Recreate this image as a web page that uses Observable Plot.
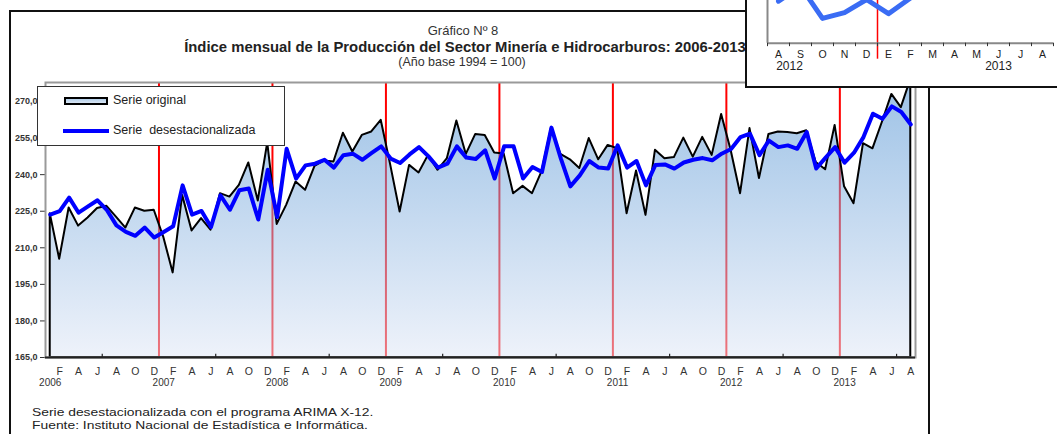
<!DOCTYPE html>
<html><head><meta charset="utf-8">
<script src="https://cdn.jsdelivr.net/npm/d3@7"></script>
<script src="https://cdn.jsdelivr.net/npm/@observablehq/plot@0.6"></script>
<style>
html,body{margin:0;padding:0;background:#fff;}
#root{position:relative;width:1057px;height:434px;overflow:hidden;font-family:"Liberation Sans",Arial,sans-serif;color:#222;}
.abs{position:absolute;white-space:nowrap;line-height:1;}
svg{position:absolute;}
</style></head><body><div id="root"></div>
<script>
// ---- data ----
const monthLetters = ["E","F","M","A","M","J","J","A","S","O","N","D"];
const startYear = 2006;
const yTicks = [165,180,195,210,225,240,255,270];
const original = [
 224.0,205.3,226.3,218.9,222.2,226.1,227.0,222.6,218.1,226.3,225.0,225.4,
 214.4,199.7,231.5,216.9,222.0,217.2,232.2,230.8,235.6,244.8,229.2,253.0,
 219.6,227.4,237.0,233.6,243.4,245.6,245.2,257.0,249.3,256.1,257.5,262.3,
 244.0,224.7,243.8,240.7,247.9,241.8,246.6,262.0,248.3,256.5,256.1,248.9,
 248.5,232.2,235.2,232.2,241.1,258.9,248.3,246.1,242.5,254.8,246.1,252.0,
 250.6,224.0,241.5,223.3,250.0,246.5,247.0,255.0,247.2,255.3,247.9,264.7,
 250.0,232.2,258.9,238.4,256.5,257.5,257.3,256.8,258.0,245.0,242.0,260.2,
 235.0,228.1,252.7,250.6,261.5,272.9,267.5,279.0];
const seasAdj = [
 223.6,225.0,230.6,224.4,227.0,229.5,225.4,219.2,216.5,214.9,218.3,214.2,
 216.5,218.8,235.6,223.6,225.1,218.5,231.5,225.6,233.6,234.3,221.6,242.0,
 222.6,250.6,238.4,243.8,244.5,246.1,242.9,248.0,248.6,246.1,248.9,251.6,
 246.6,244.8,248.3,251.3,247.5,242.9,244.5,251.6,247.0,246.4,250.0,238.4,
 251.6,251.6,238.4,243.1,241.1,259.3,246.6,235.2,239.7,245.6,242.9,242.5,
 252.0,242.9,245.6,235.6,244.0,244.2,242.5,245.0,246.1,246.8,245.9,248.6,
 250.5,255.4,256.8,248.0,254.0,251.3,252.0,250.6,257.5,242.5,247.0,251.3,
 244.9,249.0,255.4,265.0,262.9,268.0,265.7,260.6];
const insetMonths = ["A","S","O","N","D","E","F","M","A","M","J","J","A"];
const insetYears = ["2012","2013"];
const insetValues = [250.5,257.5,242.5,245.2,251.3,244.7,252.0,255.4,265.0,262.9,268.0,265.7,260.6];

// ---- derived tables ----
const rows = original.map((v,i)=>({i, month:i%12, year:startYear+Math.floor(i/12), orig:v, sa:seasAdj[i]}));
const monthRows = rows.filter(r=>r.month%2===1);
const yearRows = rows.filter(r=>r.month===0);
const janBounds = yearRows.slice(1).map(r=>r.i-0.5);
const sixTicks = rows.filter(r=>r.month===5).map(r=>r.i+0.5);
const insetRows = insetValues.map((v,i)=>({i, v, m:insetMonths[i]}));

const root = document.getElementById("root");
function div(css, html){const d=document.createElement("div");d.className="abs";d.style.cssText=css;if(html!=null)d.innerHTML=html;root.appendChild(d);return d;}

// outer frame
div("left:9px;top:10px;width:917px;height:500px;border:2px solid #111;");

// main chart
const main = Plot.plot({
  width:930, height:434,
  marginLeft:45, marginRight:15, marginTop:82, marginBottom:77,
  x:{type:"linear", domain:[-0.5, rows.length-0.5], axis:null},
  y:{domain:[165,277.8], ticks:yTicks, tickFormat:d=>d.toFixed(1).replace(".",","), tickSize:5, tickPadding:3, label:null},
  style:{background:"transparent", fontSize:"9px", fontWeight:"bold", color:"#333", fontFamily:"Liberation Sans, Arial, sans-serif"},
  marks:[
    Plot.ruleX(janBounds, {stroke:"#ff0000", strokeWidth:2}),
    Plot.areaY(rows, {x:"i", y1:165, y2:"orig", fill:"url(#areaGrad)", fillOpacity:0.5, stroke:"#000", strokeWidth:2, clip:true}),
    Plot.line(rows, {x:"i", y:"sa", stroke:"#0000ff", strokeWidth:4, strokeLinejoin:"round", clip:true}),
    Plot.frame({stroke:"#9a9a9a", strokeWidth:2}),
    Plot.ruleY([165], {stroke:"#222", strokeWidth:2}),
    Plot.ruleX(sixTicks, {y1:165, y2:166.3, stroke:"#222", strokeWidth:1.2}),
    Plot.text(monthRows, {x:"i", text:r=>monthLetters[r.month], frameAnchor:"bottom", dy:17, fontSize:10.5, fontWeight:"normal", fill:"#333"}),
    Plot.text(yearRows, {x:"i", text:r=>String(r.year), frameAnchor:"bottom", dy:28.5, fontSize:10, fontWeight:"normal", fill:"#333"})
  ]
});
main.style.left="0px"; main.style.top="0px";
root.appendChild(main);
const defs = d3.select(main).insert("defs",":first-child");
const grad = defs.append("linearGradient").attr("id","areaGrad").attr("x1",0).attr("y1",0).attr("x2",0).attr("y2",1);
grad.append("stop").attr("offset",0).attr("stop-color","#3b85cd");
grad.append("stop").attr("offset",1).attr("stop-color","#dde5f5");

// titles
div("left:463px;top:23.5px;transform:translateX(-50%);font-size:13px;color:#333;","Gráfico Nº 8");
div("left:464.5px;top:40px;transform:translateX(-50%) scaleX(1.06);font-size:14px;font-weight:bold;color:#222;","Índice mensual de la Producción del Sector Minería e Hidrocarburos: 2006-2013");
div("left:462px;top:56px;transform:translateX(-50%);font-size:12.5px;color:#333;","(Año base 1994 = 100)");

// legend
div("left:37px;top:86px;width:246px;height:58px;border:1px solid #333;background:#fff;");
div("left:64px;top:97px;width:40px;height:4px;border:2px solid #000;background:linear-gradient(#b3cfea,#d9e5f3);");
div("left:113px;top:94px;font-size:12.5px;color:#222;","Serie original");
div("left:63px;top:129px;width:46px;height:4px;background:#0000ff;");
div("left:113px;top:124px;font-size:12.5px;color:#222;","Serie&nbsp; desestacionalizada");

// footer
div("left:32px;top:406.5px;font-size:11px;color:#222;transform:scaleX(1.26);transform-origin:left;","Serie desestacionalizada con el programa ARIMA X-12.");
div("left:32px;top:420px;font-size:11px;color:#222;transform:scaleX(1.26);transform-origin:left;","Fuente: Instituto Nacional de Estadística e Informática.");

// inset
div("left:745px;top:-10px;width:340px;height:94px;border:2px solid #111;background:#fff;");
const inset = Plot.plot({
  width:330, height:150, marginLeft:20, marginRight:24, marginTop:8, marginBottom:47.3,
  x:{type:"linear", domain:[-0.5, insetRows.length-0.5], axis:null},
  y:{domain:[231,275], axis:null},
  style:{background:"transparent", fontFamily:"Liberation Sans, Arial, sans-serif"},
  marks:[
    Plot.ruleX([4.5], {stroke:"#ff0000", strokeWidth:1.5, insetBottom:-16}),
    Plot.line(insetRows, {x:"i", y:"v", stroke:"#3a6cf4", strokeWidth:5, strokeLinejoin:"round"}),
    Plot.ruleY([231], {stroke:"#888", strokeWidth:2}),
    Plot.ruleX([-0.5], {stroke:"#888", strokeWidth:2}),
    Plot.ruleX(d3.range(insetRows.length+1).map(k=>k-0.5), {y1:231, y2:229.4, stroke:"#333", strokeWidth:1}),
    Plot.text(insetRows, {x:"i", text:"m", frameAnchor:"bottom", dy:14.5, fontSize:10.5, fill:"#222"}),
    Plot.text([{i:0.5,t:insetYears[0]},{i:10,t:insetYears[1]}], {x:"i", text:"t", frameAnchor:"bottom", dy:26.5, fontSize:12, fill:"#222"})
  ]
});
inset.style.left="747px"; inset.style.top="-60px";
root.appendChild(inset);
</script></body></html>
